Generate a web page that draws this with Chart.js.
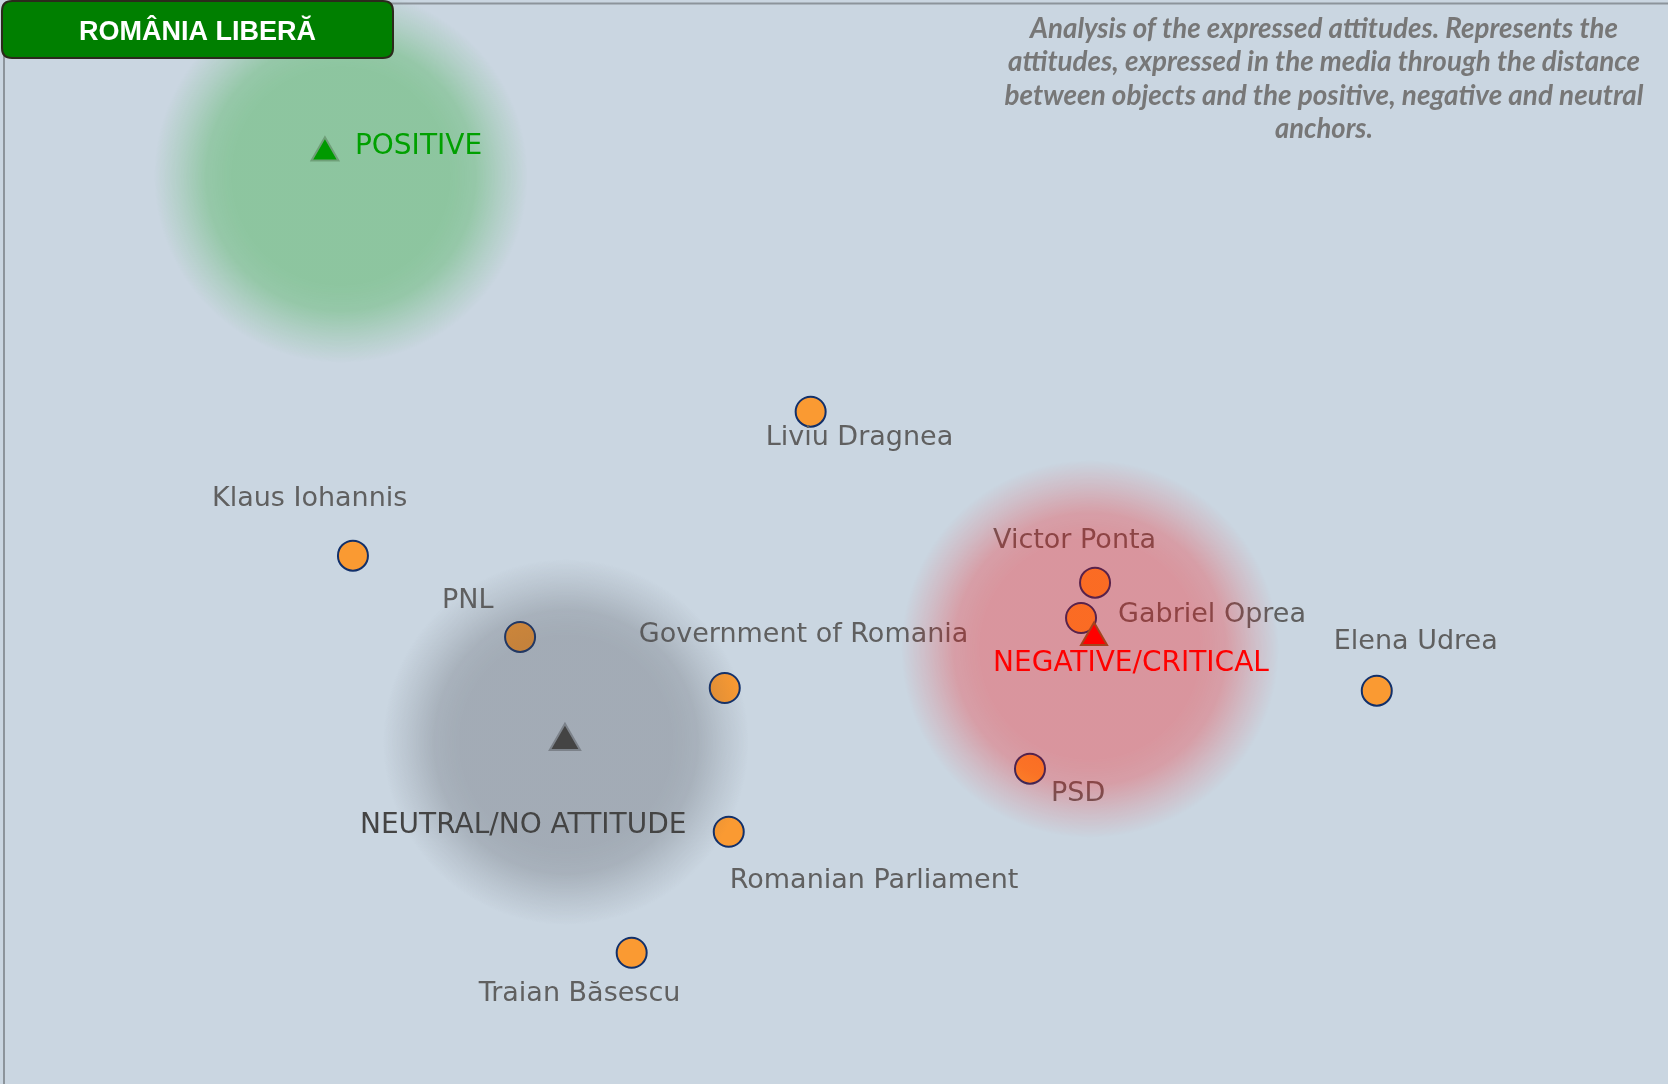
<!DOCTYPE html>
<html>
<head>
<meta charset="utf-8">
<title>România Liberă - expressed attitudes</title>
<script src="https://cdn.jsdelivr.net/npm/chart.js@4.4.1/dist/chart.umd.min.js"></script>
<style>
  html, body { margin: 0; padding: 0; background: #cad6e1; overflow: hidden; }
  #wrap { position: relative; width: 1668px; height: 1084px; }
</style>
</head>
<body>
<div id="wrap"><canvas id="attitudeChart"></canvas></div>
<script>
// Objects on the attitude map (map units, 0-100 on both axes)
const objectNames = ['Liviu Dragnea', 'Klaus Iohannis', 'PNL', 'Government of Romania', 'Victor Ponta',
    'Gabriel Oprea', 'Elena Udrea', 'PSD', 'Romanian Parliament', 'Traian Băsescu'];
const objectX = [48.60, 21.16, 31.18, 43.45, 65.65, 64.81, 82.54, 61.75, 43.69, 37.87];
const objectY = [62.02, 48.74, 41.24, 36.53, 46.25, 42.99, 36.28, 29.09, 23.27, 12.11];

// Anchors
const anchorNames = ['POSITIVE', 'NEGATIVE/CRITICAL', 'NEUTRAL/NO ATTITUDE'];
const anchorX = [19.48, 65.59, 33.87];
const anchorY = [85.90, 41.20, 31.62];

// Centres of the halos around the anchors
const haloX = [20.44, 65.35, 33.93];
const haloY = [83.76, 40.13, 31.55];

const titleText = 'ROMÂNIA LIBERĂ';
const captionLines = [
    'Analysis of the expressed attitudes. Represents the',
    'attitudes, expressed in the media through the distance',
    'between objects and the positive, negative and neutral',
    'anchors.'
];

// label placement relative to the marker (pixels: dx, baseline dy)
const objectLabelOffsets = [[-45, 33], [-141, -50], [-78, -29], [-86, -46], [-102, -35],
    [37, 4], [-43, -42], [21, 32], [1, 56], [-153, 48]];
const anchorLabelOffsets = [[30, 1], [-101, 34], [-205, 92]];
const anchorLabelColors = ['#00a000', '#ff0000', '#444444'];
const haloColors = ['0, 160, 8', '252, 0, 2', '72, 74, 82'];
const haloRadius = [187, 189, 183];

const toPoints = (xs, ys) => xs.map((x, i) => ({ x: x, y: ys[i] }));

// labels + halos are painted right after the objects, so the halos tint them
const mapPlugin = {
    id: 'mapPlugin',
    afterDatasetDraw(chart, args) {
        if (args.index !== 0) return;
        const ctx = chart.ctx;
        const xs = chart.scales.x, ys = chart.scales.y;
        ctx.save();
        ctx.font = '27px "DejaVu Sans", Verdana, sans-serif';
        ctx.fillStyle = '#606060';
        ctx.textAlign = 'left';
        ctx.textBaseline = 'alphabetic';
        objectNames.forEach((name, i) => {
            const px = xs.getPixelForValue(objectX[i]);
            const py = ys.getPixelForValue(objectY[i]);
            ctx.fillText(name, px + objectLabelOffsets[i][0], py + objectLabelOffsets[i][1]);
        });
        // halos
        haloX.forEach((hx, i) => {
            const cx = xs.getPixelForValue(hx);
            const cy = ys.getPixelForValue(haloY[i]);
            const r = haloRadius[i];
            const c = haloColors[i];
            const g = ctx.createRadialGradient(cx, cy, 0, cx, cy, r);
            g.addColorStop(0, `rgba(${c}, 0.3)`);
            g.addColorStop(0.58, `rgba(${c}, 0.3)`);
            g.addColorStop(0.72, `rgba(${c}, 0.26)`);
            g.addColorStop(0.86, `rgba(${c}, 0.12)`);
            g.addColorStop(1, `rgba(${c}, 0)`);
            ctx.fillStyle = g;
            ctx.beginPath();
            ctx.arc(cx, cy, r, 0, Math.PI * 2);
            ctx.fill();
        });
        ctx.restore();
    },
    afterDatasetsDraw(chart) {
        const ctx = chart.ctx;
        const xs = chart.scales.x, ys = chart.scales.y;
        ctx.save();
        // anchor labels
        ctx.font = '28px "DejaVu Sans", Verdana, sans-serif';
        ctx.textAlign = 'left';
        anchorNames.forEach((name, i) => {
            const px = xs.getPixelForValue(anchorX[i]);
            const py = ys.getPixelForValue(anchorY[i]);
            ctx.fillStyle = anchorLabelColors[i];
            ctx.fillText(name, px + anchorLabelOffsets[i][0], py + anchorLabelOffsets[i][1]);
        });

        // frame lines
        ctx.strokeStyle = '#8c949b';
        ctx.lineWidth = 2;
        ctx.beginPath();
        ctx.moveTo(380, 3.5);
        ctx.lineTo(chart.width, 3.5);
        ctx.moveTo(4, 40);
        ctx.lineTo(4, chart.height);
        ctx.stroke();

        // title box
        const bx = 2, by = 1, bw = 391, bh = 57, br = 10;
        ctx.beginPath();
        ctx.moveTo(bx + br, by);
        ctx.lineTo(bx + bw - br, by);
        ctx.quadraticCurveTo(bx + bw, by, bx + bw, by + br);
        ctx.lineTo(bx + bw, by + bh - br);
        ctx.quadraticCurveTo(bx + bw, by + bh, bx + bw - br, by + bh);
        ctx.lineTo(bx + br, by + bh);
        ctx.quadraticCurveTo(bx, by + bh, bx, by + bh - br);
        ctx.lineTo(bx, by + br);
        ctx.quadraticCurveTo(bx, by, bx + br, by);
        ctx.closePath();
        ctx.fillStyle = '#007f00';
        ctx.fill();
        ctx.strokeStyle = '#2b2a1c';
        ctx.lineWidth = 2;
        ctx.stroke();
        ctx.fillStyle = '#ffffff';
        ctx.font = 'bold 27px "Liberation Sans", Arial, sans-serif';
        ctx.textAlign = 'center';
        ctx.fillText(titleText, 197.5, 40);

        // caption, squeezed to the width of the original condensed type
        ctx.fillStyle = '#777777';
        ctx.font = 'italic bold 28px Lato, "Open Sans", sans-serif';
        ctx.textAlign = 'center';
        const capBase = [38, 71, 105, 138];
        const capWidth = [588, 632, 639, 98];
        captionLines.forEach((line, i) => {
            const w = ctx.measureText(line).width;
            ctx.save();
            ctx.translate(1324, capBase[i]);
            ctx.scale(capWidth[i] / w, 1);
            ctx.fillText(line, 0, 0);
            ctx.restore();
        });
        ctx.restore();
    }
};

const ctx = document.getElementById('attitudeChart').getContext('2d');
new Chart(ctx, {
    type: 'scatter',
    data: {
        datasets: [{
            label: 'Objects',
            data: toPoints(objectX, objectY),
            pointStyle: 'circle',
            pointRadius: 15,
            pointHoverRadius: 15,
            backgroundColor: '#fa9a32',
            borderColor: '#12306a',
            borderWidth: 2,
            order: 2
        }, {
            label: 'Anchors',
            data: toPoints(anchorX, anchorY),
            pointStyle: 'triangle',
            pointRadius: [15.5, 15, 17.5],
            pointHoverRadius: [15.5, 15, 17.5],
            backgroundColor: ['#009a00', '#ff0000', '#444444'],
            borderColor: ['#6f9f78', '#a4431e', '#7c828a'],
            borderWidth: 2,
            order: 1
        }]
    },
    options: {
        responsive: true,
        maintainAspectRatio: false,
        animation: false,
        events: [],
        layout: { padding: 0, autoPadding: false },
        scales: {
            x: { type: 'linear', min: 0, max: 100, display: false },
            y: { type: 'linear', min: 0, max: 100, display: false }
        },
        plugins: {
            legend: { display: false },
            tooltip: { enabled: false }
        }
    },
    plugins: [mapPlugin]
});
</script>
</body>
</html>
